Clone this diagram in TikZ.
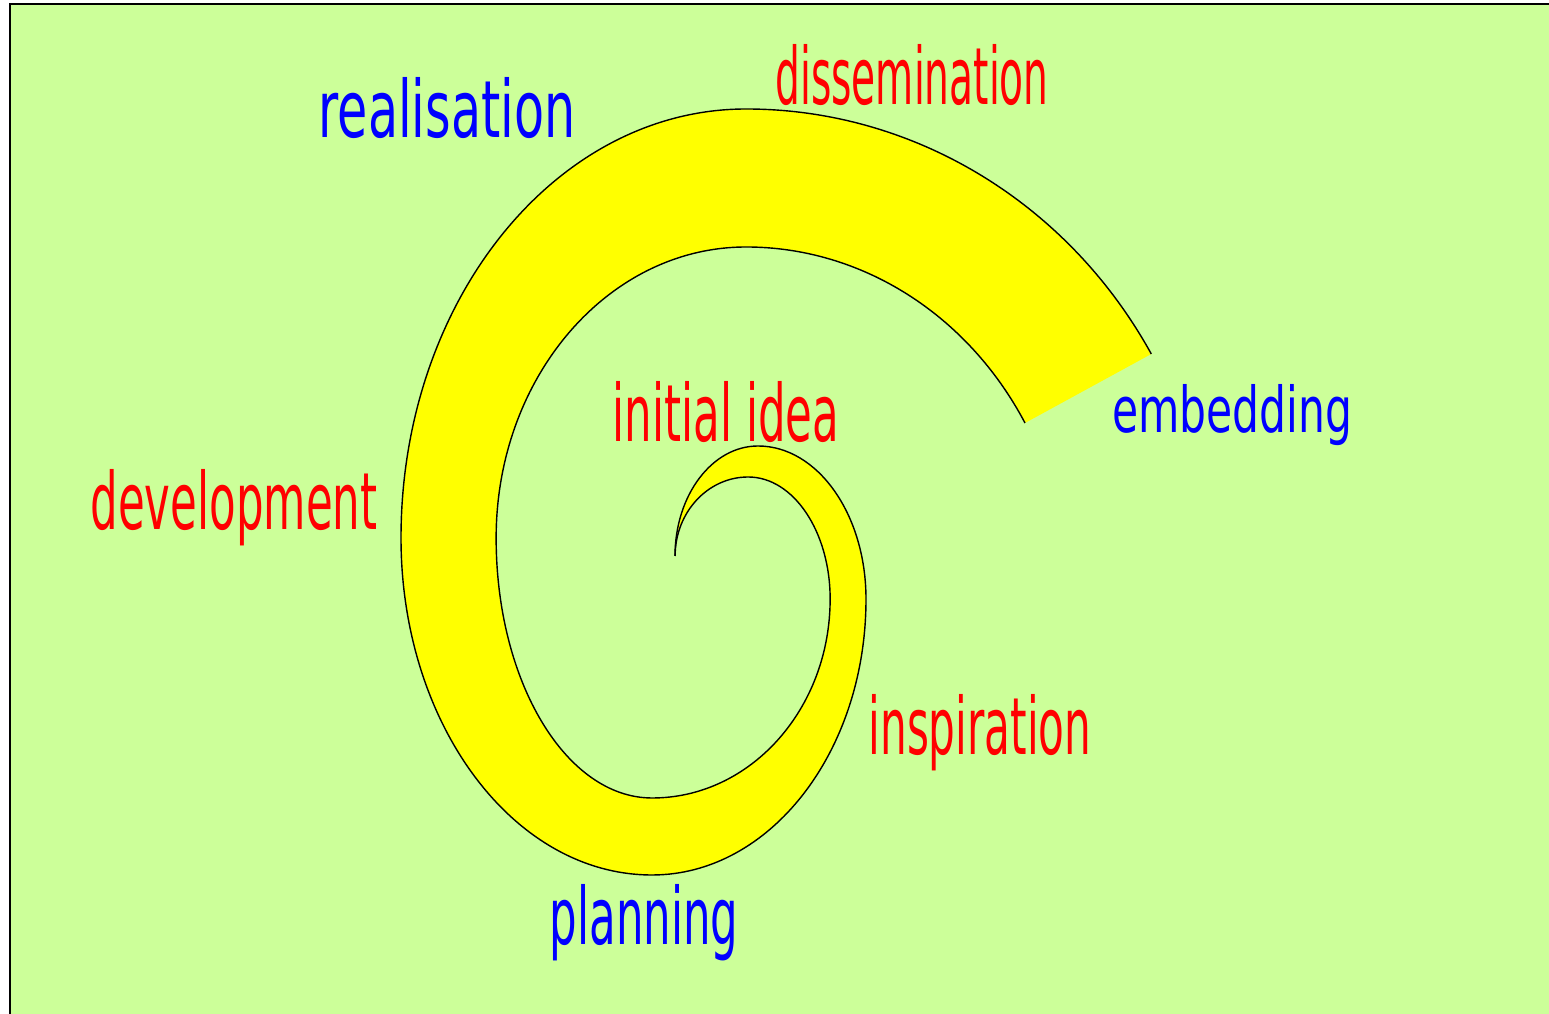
\documentclass[tikz,border=0pt]{standalone}
\usepackage{fontspec}
\newfontfamily\lblfont[FakeStretch=0.55]{DejaVu Sans}
\definecolor{paper}{HTML}{CCFF99}
\definecolor{band}{RGB}{255,255,0}
\tikzset{
  lbl/.style={inner sep=0pt, anchor=base, font=\lblfont\fontsize{45}{50}\selectfont},
  hot/.style={lbl, text=red},
  cool/.style={lbl, text=blue},
  edge/.style={draw=black, line width=0.8pt}
}
\begin{document}
\begin{tikzpicture}[x=0.02cm,y=0.02cm]
                \useasboundingbox (0,0) rectangle (1549,1014);
                \fill[paper] (10,0) rectangle (1549,1010);
                \draw[line width=0.8pt] (10,0) -- (10,1010) -- (1549,1010);
                % the band
                \coordinate (tip) at (675,458);
                \fill[band] (tip)
                    arc[start angle=180, end angle=90, x radius=83, y radius=110]
                    arc[start angle=90, end angle=0, x radius=108, y radius=153]
                    arc[start angle=0, end angle=-90, x radius=214, y radius=276]
                    arc[start angle=-90, end angle=-180, x radius=251, y radius=337]
                    arc[start angle=180, end angle=90, x radius=345, y radius=429]
                    arc[start angle=90, end angle=30, x radius=468, y radius=490] coordinate (outend)
                    -- (1025,591) coordinate (inend)
                    arc[start angle=30, end angle=90, x radius=322, y radius=352]
                    arc[start angle=90, end angle=180, x radius=250, y radius=291]
                    arc[start angle=180, end angle=270, x radius=156, y radius=260]
                    arc[start angle=270, end angle=360, x radius=178, y radius=199]
                    arc[start angle=0, end angle=90, x radius=82, y radius=122]
                    arc[start angle=90, end angle=180, x radius=73, y radius=79] -- cycle;
                \draw[edge] (tip)
                    arc[start angle=180, end angle=90, x radius=83, y radius=110]
                    arc[start angle=90, end angle=0, x radius=108, y radius=153]
                    arc[start angle=0, end angle=-90, x radius=214, y radius=276]
                    arc[start angle=-90, end angle=-180, x radius=251, y radius=337]
                    arc[start angle=180, end angle=90, x radius=345, y radius=429]
                    arc[start angle=90, end angle=30, x radius=468, y radius=490];
                \draw[edge] (inend)
                    arc[start angle=30, end angle=90, x radius=322, y radius=352]
                    arc[start angle=90, end angle=180, x radius=250, y radius=291]
                    arc[start angle=180, end angle=270, x radius=156, y radius=260]
                    arc[start angle=270, end angle=360, x radius=178, y radius=199]
                    arc[start angle=0, end angle=90, x radius=82, y radius=122]
                    arc[start angle=90, end angle=180, x radius=73, y radius=79];
                % stages
                \node[cool] (realisation) at (447,876) {\scalebox{1.13}[1]{realisation}};
                \node[hot] (dissemination) at (912,909) {\scalebox{0.9}[1]{dissemination}};
                \node[cool, font=\lblfont\fontsize{36}{40}\selectfont] (embedding) at (1232,581) {\scalebox{1.22}[1]{embedding}};
                \node[hot] (idea) at (726,572) {initial idea};
                \node[hot] (development) at (234,484) {development};
                \node[hot] (inspiration) at (980,259) {\scalebox{0.97}[1]{inspiration}};
                \node[cool] (planning) at (644,69) {planning};
            \end{tikzpicture}
\end{document}
